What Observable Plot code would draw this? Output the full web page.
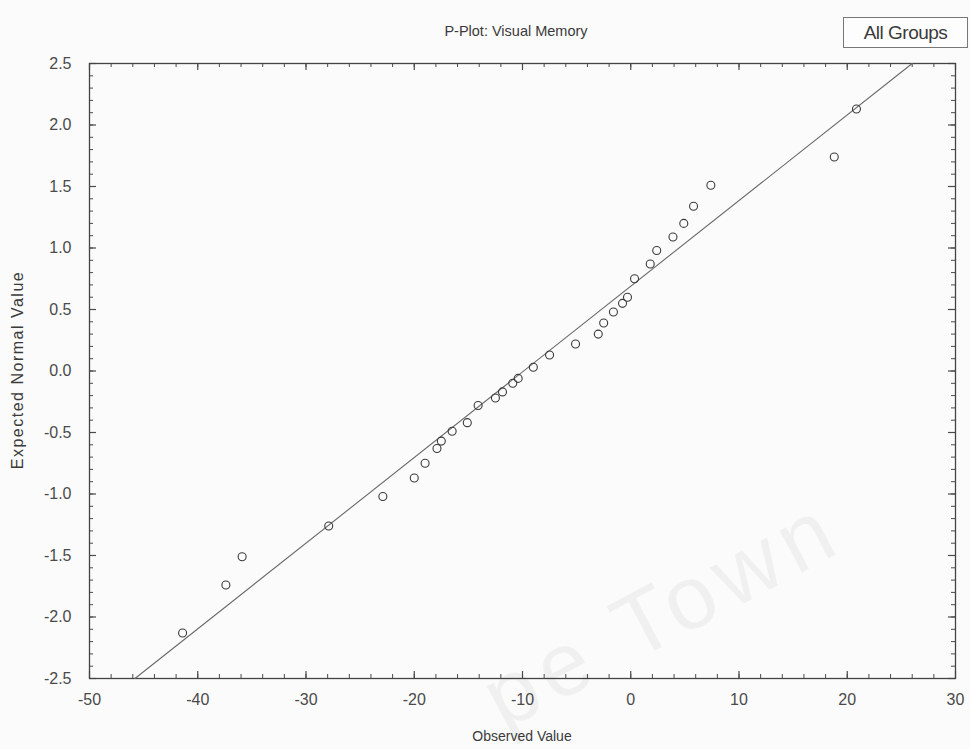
<!DOCTYPE html>
<html>
<head>
<meta charset="utf-8">
<script src="https://cdn.jsdelivr.net/npm/d3@7"></script>
<script src="https://cdn.jsdelivr.net/npm/@observablehq/plot@0.6"></script>
<style>
  html, body { margin: 0; padding: 0; background: #fbfbfb; overflow: hidden; }
  #wrap { position: relative; width: 970px; height: 749px; overflow: hidden; font-family: "Liberation Sans", Arial, sans-serif; color: #3a3a3a; }
  #wrap svg { position: absolute; left: 0; top: 0; }
  .title { position: absolute; left: 83px; width: 866px; top: 23px; text-align: center; font-size: 14.5px; }
  .legend { position: absolute; left: 843px; top: 17px; width: 125px; height: 31px; border: 1px solid #777; box-sizing: border-box; font-size: 19px; line-height: 29px; text-align: center; background: #fdfdfd; letter-spacing: -0.5px; }
  .xlabel { position: absolute; left: 89px; width: 866px; top: 728px; text-align: center; font-size: 14px; }
  .ylabel { position: absolute; left: 18px; top: 370px; transform: translate(-50%, -50%) rotate(-90deg); white-space: nowrap; font-size: 16px; letter-spacing: 1.5px; }
  .wm { position: absolute; left: 468px; top: 664px; line-height: 1; transform: rotate(-28deg); transform-origin: left top; font-size: 90px; letter-spacing: 8px; color: rgba(0,0,0,0.045); white-space: nowrap; pointer-events: none; }
</style>
</head>
<body>
<div id="wrap">
  <div class="title">P-Plot: Visual Memory</div>
  <div class="legend">All Groups</div>
  <div class="xlabel">Observed Value</div>
  <div class="ylabel">Expected Normal Value</div>
</div>
<script>
const observed = [-41.4, -37.4, -35.9, -27.9, -22.9, -20.0, -19.0, -17.9, -17.5, -16.5, -15.1, -14.1, -12.5, -11.85, -10.9, -10.4, -9.0, -7.5, -5.1, -3.0, -2.5, -1.6, -0.76, -0.3, 0.35, 1.8, 2.4, 3.9, 4.9, 5.8, 7.4, 18.8, 20.85];
const expected = [-2.13, -1.74, -1.51, -1.26, -1.02, -0.87, -0.75, -0.63, -0.57, -0.49, -0.42, -0.28, -0.22, -0.17, -0.10, -0.06, 0.03, 0.13, 0.22, 0.30, 0.39, 0.48, 0.55, 0.60, 0.75, 0.87, 0.98, 1.09, 1.20, 1.34, 1.51, 1.74, 2.13];

// Reference (fit) line end points
const fitX = [-45.8, 26.0];
const fitY = [-2.5, 2.5];

// Axis ticks and labels
const xTicks = [-50, -40, -30, -20, -10, 0, 10, 20, 30];
const xTickLabels = ["-50", "-40", "-30", "-20", "-10", "0", "10", "20", "30"];
const yTicks = [-2.5, -2.0, -1.5, -1.0, -0.5, 0.0, 0.5, 1.0, 1.5, 2.0, 2.5];
const yTickLabels = ["-2.5", "-2.0", "-1.5", "-1.0", "-0.5", "0.0", "0.5", "1.0", "1.5", "2.0", "2.5"];
const xMinor = d3.range(-50, 31, 2);
const yMinor = d3.range(-25, 26).map(d => d / 10);

const points = observed.map((x, i) => ({x, y: expected[i]}));
const fit = fitX.map((x, i) => ({x, y: fitY[i]}));

const W = 970, H = 749, mL = 89, mR = 15, mT = 63, mB = 71;
const pw = W - mL - mR, ph = H - mT - mB;
const ink = "#4a4a4a";

const chart = Plot.plot({
  width: W, height: H,
  marginLeft: mL, marginRight: mR, marginTop: mT, marginBottom: mB,
  style: {background: "transparent", fontFamily: "'Liberation Sans', Arial, sans-serif", fontSize: "16px", color: "#4a4a4a"},
  x: {domain: [-50, 30]},
  y: {domain: [-2.5, 2.5]},
  marks: [
    // inward minor ticks on all four sides
    Plot.ruleX(xMinor, {x: d => d, insetTop: ph - 4, stroke: ink, strokeWidth: 1}),
    Plot.ruleX(xMinor, {x: d => d, insetBottom: ph - 4, stroke: ink, strokeWidth: 1}),
    Plot.ruleY(yMinor, {y: d => d, insetRight: pw - 4, stroke: ink, strokeWidth: 1}),
    Plot.ruleY(yMinor, {y: d => d, insetLeft: pw - 4, stroke: ink, strokeWidth: 1}),
    // inward major ticks
    Plot.ruleX(xTicks, {x: d => d, insetTop: ph - 7, stroke: ink, strokeWidth: 1.2}),
    Plot.ruleX(xTicks, {x: d => d, insetBottom: ph - 7, stroke: ink, strokeWidth: 1.2}),
    Plot.ruleY(yTicks, {y: d => d, insetRight: pw - 7, stroke: ink, strokeWidth: 1.2}),
    Plot.ruleY(yTicks, {y: d => d, insetLeft: pw - 7, stroke: ink, strokeWidth: 1.2}),
    Plot.frame({stroke: "#444", strokeWidth: 1.3}),
    Plot.axisX(xTicks, {tickFormat: d => xTickLabels[xTicks.indexOf(d)], tickSize: 0, tickPadding: 15, label: null, fill: "#4a4a4a"}),
    Plot.axisY(yTicks, {tickFormat: d => yTickLabels[yTicks.indexOf(d)], tickSize: 0, tickPadding: 18, label: null, fill: "#4a4a4a"}),
    Plot.line(fit, {x: "x", y: "y", stroke: "#6a6a6a", strokeWidth: 1.1}),
    Plot.dot(points, {x: "x", y: "y", r: 4, stroke: "#3a3a3a", strokeWidth: 1.1, fill: "none"})
  ]
});
document.getElementById("wrap").prepend(chart);

const wm = document.createElement("div");
wm.className = "wm";
wm.textContent = "pe Town";
document.getElementById("wrap").appendChild(wm);
</script>
</body>
</html>
